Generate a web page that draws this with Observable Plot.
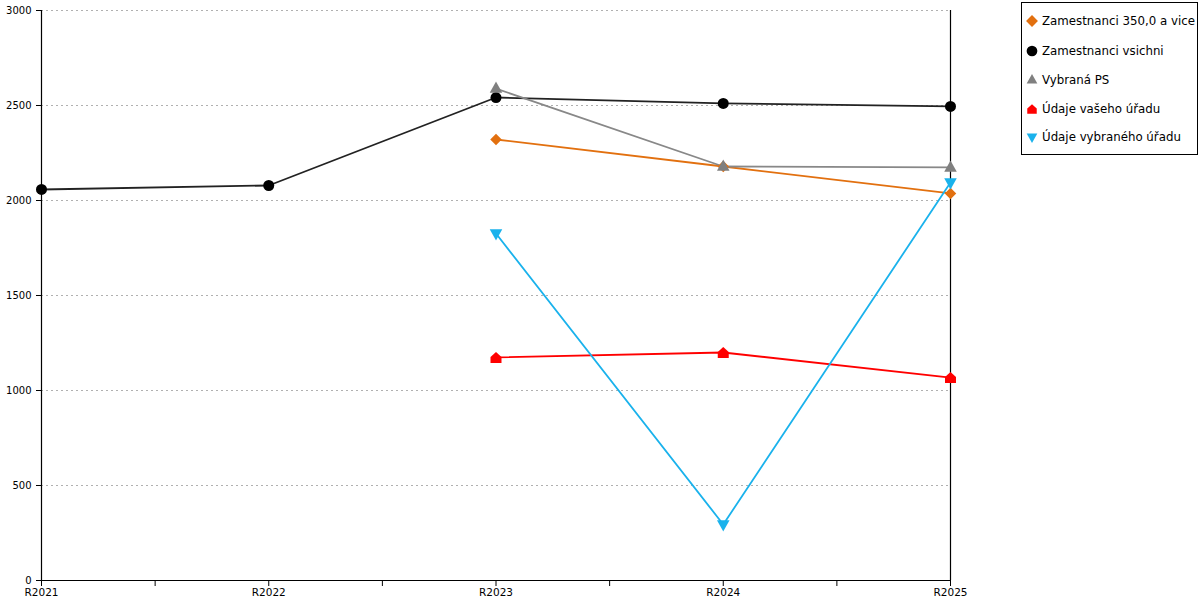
<!DOCTYPE html>
<html><head><meta charset="utf-8">
<script src="https://cdn.jsdelivr.net/npm/d3@7"></script>
<script src="https://cdn.jsdelivr.net/npm/@observablehq/plot@0.6"></script>
<style>
body{margin:0;font-family:"DejaVu Sans",sans-serif;background:#fff;}
#wrap{position:relative;width:1200px;height:600px;}
#legend{position:absolute;left:1021px;top:2px;width:177px;height:153px;border:1px solid #000;font-size:11.8px;box-sizing:border-box;}
#legend .it{position:absolute;left:0;height:16px;display:flex;align-items:center;white-space:nowrap;}
#legend svg{margin-left:4px;margin-right:4px;}
</style></head>
<body><div id="wrap"><div id="legend"></div></div>
<script>
const categories = ["R2021","R2022","R2023","R2024","R2025"];
const seriesNames = ["Zamestnanci 350,0 a vice","Zamestnanci vsichni","Vybraná PS","Údaje vašeho úřadu","Údaje vybraného úřadu"];
const orangeVals = [null, null, 2321, 2179, 2037];
const blackVals  = [2058, 2079, 2542, 2511, 2495];
const grayVals   = [null, null, 2589, 2179, 2174];
const redVals    = [null, null, 1174, 1200, 1068];
const blueVals   = [null, null, 1826, 295, 2095];
const yTicks = [0, 500, 1000, 1500, 2000, 2500, 3000];
const colors = ["#E2700F", "#222222", "#888888", "#FF0000", "#1AB2EC"];
const markerColors = ["#E2700F", "#000000", "#808080", "#FF0000", "#1AB2EC"];

const house = {draw(ctx, size){const r=Math.sqrt(size)/2; ctx.moveTo(0,-r); ctx.lineTo(r,-r*0.1); ctx.lineTo(r,r); ctx.lineTo(-r,r); ctx.lineTo(-r,-r*0.1); ctx.closePath();}};
const downTri = {draw(ctx, size){const r=Math.sqrt(size)/1.6; ctx.moveTo(0,r); ctx.lineTo(r*0.9,-r*0.6); ctx.lineTo(-r*0.9,-r*0.6); ctx.closePath();}};
const upTri = {draw(ctx, size){const r=Math.sqrt(size)/1.6; ctx.moveTo(0,-r); ctx.lineTo(r*0.9,r*0.6); ctx.lineTo(-r*0.9,r*0.6); ctx.closePath();}};
const symbols = ["diamond2", "circle", upTri, house, downTri];
const symbolsFilled = [d3.symbolDiamond2, d3.symbolCircle, upTri, house, downTri];
const sizes = [5.2, 5.5, 6.3, 6.2, 6.3];

const allVals = [orangeVals, blackVals, grayVals, redVals, blueVals];
const data = [];
allVals.forEach((vals, s) => vals.forEach((v, i) => { if (v != null) data.push({s, name: seriesNames[s], i, v}); }));

const marks = [
  Plot.ruleY(yTicks.filter(d => d > 0), {stroke: "#b0b0b0", strokeDasharray: "2,3", strokeWidth: 1}),
  Plot.axisY({ticks: yTicks, tickSize: 5, tickPadding: 5, fontSize: 10, label: null, tickFormat: "d"}),
  Plot.axisX({ticks: d3.range(0, 4.01, 0.5), tickSize: 6, tickPadding: 2, fontSize: 10.5, label: null,
    tickFormat: d => Number.isInteger(d) ? categories[d] : ""}),
  Plot.ruleY([0], {stroke: "#000", strokeWidth: 1.2}),
  Plot.ruleX([0, 4], {stroke: "#000", strokeWidth: 1.2}),
];
allVals.forEach((vals, s) => {
  const d = data.filter(e => e.s === s);
  marks.push(Plot.line(d, {x: "i", y: "v", stroke: colors[s], strokeWidth: 1.8}));
});
allVals.forEach((vals, s) => {
  const d = data.filter(e => e.s === s);
  marks.push(Plot.dot(d, {x: "i", y: "v", fill: markerColors[s], stroke: "none", r: sizes[s], symbol: () => symbols[s]}));
});

const chart = Plot.plot({
  width: 1200, height: 600,
  marginLeft: 41, marginRight: 250, marginTop: 10, marginBottom: 20,
  style: {fontFamily: "DejaVu Sans, sans-serif", fontSize: "10px", color: "#000", background: "#fff"},
  x: {type: "linear", domain: [0, 4]},
  y: {domain: [0, 3000]},
  marks
});
document.getElementById("wrap").prepend(chart);

const legend = document.getElementById("legend");
const tops = [10, 40, 69, 98, 126];
seriesNames.forEach((n, s) => {
  const it = document.createElement("div");
  it.className = "it";
  it.style.top = tops[s] + "px";
  const path = d3.symbol(symbolsFilled[s], 90)();
  it.innerHTML = `<svg width="12" height="12" viewBox="-6 -6 12 12"><path d="${path}" fill="${markerColors[s]}"/></svg><span>${n}</span>`;
  legend.appendChild(it);
});
</script></body></html>
